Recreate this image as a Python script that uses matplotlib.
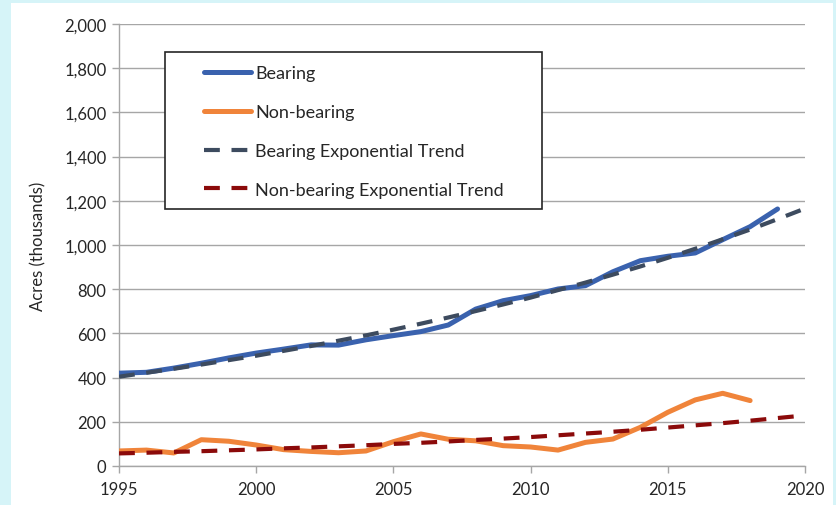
import matplotlib
matplotlib.use("Agg")
import matplotlib.pyplot as plt
from matplotlib.patches import Rectangle
from matplotlib.ticker import FuncFormatter

plt.rcParams['font.family'] = ['Lato', 'DejaVu Sans']

years = list(range(1995, 2020))
bearing = [420, 424, 443, 465, 489, 511, 529, 548, 547, 571, 590, 608, 638, 710,
           748, 771, 801, 816, 879, 929, 949, 964, 1024, 1083, 1163]
nb_years = list(range(1995, 2019))
non_bearing = [68, 72, 59, 119, 112, 95, 74, 66, 60, 68, 110, 145, 121, 114,
               92, 86, 72, 107, 122, 175, 243, 299, 329, 296]
trend_years = list(range(1995, 2021))
bearing_trend = [404, 422, 440, 459, 479, 499, 521, 543, 567, 591, 617, 644, 672,
                 701, 731, 762, 796, 830, 866, 903, 942, 983, 1026, 1070, 1117, 1165]
non_bearing_trend = [57, 60, 64, 67, 71, 75, 80, 84, 89, 94, 100, 105, 111, 118,
                     124, 131, 139, 147, 155, 164, 174, 184, 194, 205, 217, 229]

W, H = 836, 506
fig = plt.figure(figsize=(W / 100, H / 100), dpi=100)
fig.patch.set_facecolor('#D6F4F8')
fig.add_artist(Rectangle((11 / W, 0), (833 - 11) / W, (H - 4) / H,
                         transform=fig.transFigure, facecolor='white',
                         edgecolor='none', zorder=0))

ax = fig.add_axes([119 / W, (H - 467) / H, (805 - 119) / W, (467 - 25) / H])
ax.set_facecolor('none')

ax.plot(trend_years, bearing_trend, color='#3D4B5F', lw=3, dashes=(3.8, 2.8),
        label='Bearing Exponential Trend', zorder=4)
ax.plot(trend_years, non_bearing_trend, color='#8B0A0A', lw=3, dashes=(3.8, 2.8),
        label='Non-bearing Exponential Trend', zorder=4)
ax.plot(years, bearing, color='#3A62AE', lw=3.6, label='Bearing',
        solid_capstyle='round', zorder=3)
ax.plot(nb_years, non_bearing, color='#F0843A', lw=3.6, label='Non-bearing',
        solid_capstyle='round', zorder=3)

ax.set_xlim(1995, 2020)
ax.set_ylim(0, 2000)
ax.set_xticks(range(1995, 2021, 5))
ax.set_yticks(range(0, 2001, 200))
ax.yaxis.set_major_formatter(FuncFormatter(lambda v, p: f"{int(v):,}"))
ax.grid(axis='y', color='#A6A6A6', lw=1)
ax.set_axisbelow(True)
for s in ['top', 'right']:
    ax.spines[s].set_visible(False)
for s in ['left', 'bottom']:
    ax.spines[s].set_color('#A6A6A6')
    ax.spines[s].set_linewidth(1)
ax.tick_params(axis='both', colors='#A6A6A6', labelcolor='#262626',
               labelsize=12, length=5, width=1, direction='out')
ax.tick_params(axis='y', pad=4)
ax.tick_params(axis='x', pad=6)
ax.set_ylabel('Acres (thousands)', fontsize=12, color='#262626', labelpad=13)

# legend frame (layout box)
aw, ah = 805 - 119, 467 - 25
ax.add_patch(Rectangle(((165 - 119) / aw, 1 - (210 - 25) / ah),
                       (542 - 165) / aw, (210 - 53) / ah,
                       transform=ax.transAxes, facecolor='white',
                       edgecolor='#262626', lw=1.2, zorder=5, clip_on=False))

handles, labels = ax.get_legend_handles_labels()
order = [2, 3, 0, 1]
leg = ax.legend([handles[i] for i in order], [labels[i] for i in order],
                loc='upper left',
                bbox_to_anchor=((204 - 119) / aw, 1 - (66 - 25) / ah),
                fontsize=13, frameon=False, handlelength=2.6,
                handletextpad=0.25, labelspacing=1.27, borderpad=0,
                borderaxespad=0)
leg.set_zorder(6)
for t in leg.get_texts():
    t.set_color('#262626')

fig.savefig('out.png', dpi=100, facecolor=fig.get_facecolor())
